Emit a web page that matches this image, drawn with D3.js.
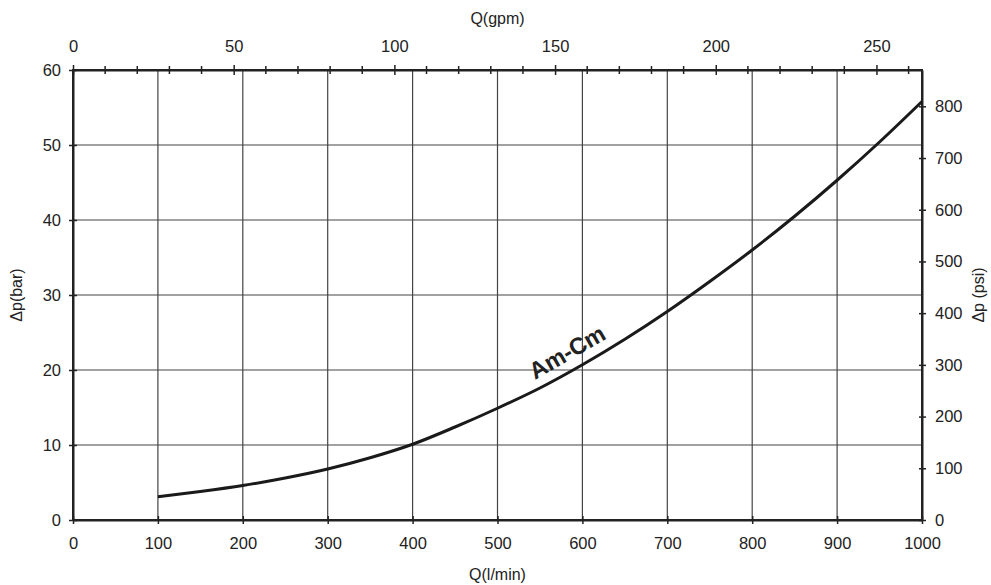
<!DOCTYPE html>
<html><head><meta charset="utf-8">
<script src="https://cdn.jsdelivr.net/npm/d3@7"></script>
<style>body{margin:0;background:#fff}svg{display:block}text{font-family:"Liberation Sans",Arial,sans-serif;fill:#222}</style>
</head><body><svg id="c" width="991" height="585"></svg>
<script>
const flowLpm = [100,150,200,250,300,350,400,450,500,550,600,650,700,750,800,850,900,950,1000];
const dpBar   = [3.1,3.8,4.6,5.6,6.8,8.3,10.1,12.4,14.9,17.6,20.7,24.1,27.8,31.8,36.0,40.5,45.3,50.4,55.8];
const xTicks = [0,100,200,300,400,500,600,700,800,900,1000];
const yTicks = [0,10,20,30,40,50,60];
const gpmTicks = [0,50,100,150,200,250];
const psiTicks = [0,100,200,300,400,500,600,700,800];
const curveLabel = "Am-Cm";
const LPM_PER_GPM = 3.785411784, PSI_PER_BAR = 14.5038;

const svg = d3.select("#c");
const L=73, R=922, T=70, B=520;
const x = d3.scaleLinear().domain([0,1000]).range([L,R]);
const y = d3.scaleLinear().domain([0,60]).range([B,T]);
const xg = d3.scaleLinear().domain([0,1000/LPM_PER_GPM]).range([L,R]);
const yp = d3.scaleLinear().domain([0,60*PSI_PER_BAR]).range([B,T]);
const fmt = d3.format("d");

// grid
svg.append("g").selectAll("line").data(xTicks.slice(1,-1)).join("line")
  .attr("x1",d=>x(d)).attr("x2",d=>x(d)).attr("y1",T).attr("y2",B)
  .attr("stroke","#444").attr("stroke-width",1.2);
svg.append("g").selectAll("line").data(yTicks.slice(1,-1)).join("line")
  .attr("y1",d=>y(d)).attr("y2",d=>y(d)).attr("x1",L).attr("x2",R)
  .attr("stroke","#444").attr("stroke-width",1.2);

function styleAxis(g){
  g.select(".domain").attr("stroke","#222").attr("stroke-width",2);
  g.selectAll(".tick line").attr("stroke","#222").attr("stroke-width",1.5);
  g.selectAll(".tick text").attr("font-size",16.5).attr("fill","#222")
   .attr("font-family",'"Liberation Sans",Arial,sans-serif');
}
// bottom
const gb = svg.append("g").attr("transform",`translate(0,${B})`)
  .call(d3.axisBottom(x).tickValues(xTicks).tickFormat(fmt).tickSizeInner(4).tickSizeOuter(0).tickPadding(13));
styleAxis(gb);
gb.selectAll(".tick line").attr("y1",-4).attr("y2",4);
// left
const gl = svg.append("g").attr("transform",`translate(${L},0)`)
  .call(d3.axisLeft(y).tickValues(yTicks).tickFormat(fmt).tickSizeInner(4).tickSizeOuter(0).tickPadding(8));
styleAxis(gl);
gl.selectAll(".tick line").attr("x1",4).attr("x2",-4);
// top (gpm)
const gt = svg.append("g").attr("transform",`translate(0,${T})`)
  .call(d3.axisTop(xg).tickValues(gpmTicks).tickFormat(fmt).tickSizeInner(4).tickSizeOuter(0).tickPadding(14));
styleAxis(gt);
gt.selectAll(".tick line").attr("y1",5).attr("y2",-5);
const minorG = d3.range(10,1000/LPM_PER_GPM,10).filter(v=>v%50!==0);
svg.append("g").selectAll("line").data(minorG).join("line")
  .attr("x1",d=>xg(d)).attr("x2",d=>xg(d)).attr("y1",T-4).attr("y2",T+4)
  .attr("stroke","#222").attr("stroke-width",1.5);
// right (psi)
const gr = svg.append("g").attr("transform",`translate(${R},0)`)
  .call(d3.axisRight(yp).tickValues(psiTicks).tickFormat(fmt).tickSizeInner(4).tickSizeOuter(0).tickPadding(9));
styleAxis(gr);
gr.selectAll(".tick line").attr("x1",-3).attr("x2",4);
// frame
svg.append("rect").attr("x",L).attr("y",T).attr("width",R-L).attr("height",B-T)
  .attr("fill","none").attr("stroke","#222").attr("stroke-width",2);

// curve
const line = d3.line().x((d,i)=>x(flowLpm[i])).y(d=>y(d)).curve(d3.curveMonotoneX);
svg.append("path").attr("d",line(dpBar)).attr("fill","none")
  .attr("stroke","#1a1a1a").attr("stroke-width",3);

// curve label
svg.append("text").attr("transform",`translate(567,352) rotate(-30)`)
  .attr("text-anchor","middle").attr("dy","0.35em").attr("font-size",23.5).attr("font-weight","bold")
  .text(curveLabel);

// axis titles
svg.append("text").attr("x",(L+R)/2).attr("y",580).attr("text-anchor","middle").attr("font-size",16).text("Q(l/min)");
svg.append("text").attr("x",(L+R)/2).attr("y",24).attr("text-anchor","middle").attr("font-size",16).text("Q(gpm)");
svg.append("text").attr("transform",`translate(22,${(T+B)/2}) rotate(-90)`).attr("text-anchor","middle").attr("font-size",16).text("Δp(bar)");
svg.append("text").attr("transform",`translate(984,${(T+B)/2}) rotate(-90)`).attr("text-anchor","middle").attr("font-size",16).text("Δp (psi)");
</script></body></html>
